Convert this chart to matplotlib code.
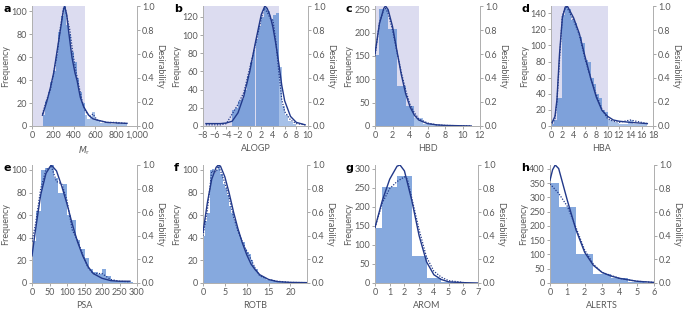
import matplotlib
matplotlib.use('Agg')
import matplotlib.pyplot as plt
import numpy as np

plt.rcParams['font.family'] = ['Lato', 'DejaVu Sans']
plt.rcParams['font.size'] = 6.5
plt.rcParams['axes.unicode_minus'] = True

# ---- data ----
# a: Mr
mw_edges = [100 + 25 * i for i in range(33)]
mw_counts = [10, 22, 30, 38, 48, 62, 82, 96, 104, 88, 80, 64, 56, 42, 30, 20,
             10, 6, 8, 12, 5, 4, 3, 3, 3, 3, 2, 2, 3, 2, 2, 2]
mw_fit_x = [100, 143, 175, 206, 238, 270, 300, 310, 330, 350, 381, 410, 429, 460, 492, 540, 580, 619, 714, 810, 905]
mw_fit_y = [0.09, 0.21, 0.32, 0.44, 0.62, 0.80, 0.97, 1.0, 0.93, 0.78, 0.57, 0.44, 0.38, 0.24, 0.16, 0.09, 0.06, 0.05, 0.03, 0.025, 0.022]
mw_dot_x = [100, 140, 175, 210, 240, 270, 300, 315, 340, 360, 390, 420, 450, 480, 510, 550, 580, 620, 700, 800, 905]
mw_dot_y = [0.10, 0.22, 0.30, 0.46, 0.60, 0.82, 0.98, 0.99, 0.88, 0.80, 0.60, 0.45, 0.32, 0.20, 0.12, 0.08, 0.10, 0.05, 0.03, 0.03, 0.02]

# b: ALOGP
logp_edges = [-3 + 0.5 * i for i in range(23)]
logp_counts = [18, 20, 27, 30, 40, 55, 70, 82, 96, 110, 120, 130, 126, 118, 122, 124,
               65, 22, 12, 6, 4, 2]
logp_fit_x = [-7.5, -5, -4, -3, -2, -1, 0, 1, 2, 2.6, 3, 3.5, 4, 4.5, 5, 5.5, 6, 7, 8, 9.5]
logp_fit_y = [0.02, 0.02, 0.025, 0.04, 0.11, 0.25, 0.45, 0.70, 0.93, 1.0, 0.98, 0.92, 0.82, 0.68, 0.52, 0.34, 0.21, 0.08, 0.03, 0.01]
logp_dot_x = [-7.5, -5, -4, -3, -2, -1, 0, 1, 2, 2.5, 3, 3.5, 4, 4.5, 5, 5.5, 6, 7, 8, 9.5]
logp_dot_y = [0.01, 0.01, 0.02, 0.10, 0.18, 0.28, 0.48, 0.68, 0.90, 0.98, 0.95, 0.90, 0.88, 0.70, 0.45, 0.22, 0.12, 0.05, 0.02, 0.01]

# c: HBD
hbd_centers = [0, 1, 2, 3, 4, 5, 6, 7, 8, 9, 10, 11]
hbd_counts = [152, 250, 207, 85, 42, 18, 5, 2, 1, 1, 0.5, 0.3]
hbd_fit_x = [0, 0.5, 1, 1.2, 1.5, 2, 2.5, 3, 3.5, 4, 4.5, 5, 6, 7, 8, 11]
hbd_fit_y = [0.60, 0.85, 0.98, 1.0, 0.97, 0.83, 0.63, 0.43, 0.27, 0.16, 0.09, 0.05, 0.02, 0.01, 0.005, 0.0]
hbd_dot_x = [0, 0.5, 1, 1.2, 1.5, 2, 2.5, 3, 3.5, 4, 4.5, 5, 6, 7, 8, 11]
hbd_dot_y = [0.58, 0.86, 0.97, 0.98, 0.94, 0.80, 0.62, 0.45, 0.30, 0.18, 0.11, 0.06, 0.025, 0.01, 0.005, 0.0]

# d: HBA
hba_edges = [0.5 * i for i in range(35)]
hba_counts = [3, 8, 35, 35, 138, 146, 145, 132, 128, 118, 110, 103, 82, 80, 60, 52, 40, 35,
              20, 18, 8, 6, 5, 4, 3, 3, 3, 6, 7, 3, 2, 2, 2, 2]
hba_fit_x = [0.2, 0.7, 1.05, 1.5, 2, 2.5, 2.8, 3, 4, 5, 6, 7, 8, 9, 10, 11, 12, 14, 17]
hba_fit_y = [0.03, 0.08, 0.22, 0.60, 0.90, 0.99, 1.0, 0.99, 0.90, 0.77, 0.58, 0.40, 0.24, 0.13, 0.08, 0.05, 0.04, 0.03, 0.02]
hba_dot_x = [0.2, 0.7, 1.05, 1.5, 2, 2.5, 2.8, 3, 4, 5, 6, 7, 8, 9, 10, 11, 12, 14, 17]
hba_dot_y = [0.02, 0.06, 0.20, 0.55, 0.92, 0.98, 0.99, 0.97, 0.88, 0.76, 0.56, 0.40, 0.26, 0.14, 0.06, 0.04, 0.03, 0.05, 0.02]

# e: PSA
psa_edges = [12.5 * i for i in range(24)]
psa_counts = [37, 64, 100, 102, 104, 93, 80, 88, 60, 56, 38, 30, 22, 12, 10, 8,
              12, 6, 3, 2, 2, 1, 1]
psa_fit_x = [0, 10, 25, 40, 55, 70, 85, 100, 115, 130, 145, 160, 175, 200, 225, 250, 280]
psa_fit_y = [0.23, 0.45, 0.75, 0.93, 1.0, 0.95, 0.82, 0.67, 0.50, 0.35, 0.23, 0.14, 0.08, 0.04, 0.02, 0.015, 0.015]
psa_dot_x = [0, 10, 25, 40, 55, 70, 85, 100, 115, 130, 145, 160, 175, 200, 225, 250, 280]
psa_dot_y = [0.35, 0.50, 0.80, 0.96, 0.99, 0.86, 0.84, 0.70, 0.45, 0.36, 0.24, 0.13, 0.08, 0.08, 0.03, 0.015, 0.01]

# f: ROTB
rotb_edges = [0.5 * i for i in range(43)]
rotb_counts = [42, 55, 62, 100, 101, 97, 100, 104, 96, 88, 84, 78, 68, 62, 55, 50, 45, 40,
               36, 30, 27, 26, 20, 15, 12, 8, 6, 5, 4, 3, 3, 2, 2, 2, 1.5, 1, 1, 1,
               0.8, 0.6, 0.5, 0.4]
rotb_fit_x = [0, 1, 2, 3, 3.5, 4, 5, 6, 7, 8, 9, 10, 11, 12, 13, 15, 17, 20, 24]
rotb_fit_y = [0.43, 0.68, 0.88, 0.98, 1.0, 0.99, 0.90, 0.76, 0.60, 0.46, 0.34, 0.24, 0.16, 0.11, 0.07, 0.03, 0.012, 0.005, 0.003]
rotb_dot_x = [0, 1, 2, 3, 3.5, 4, 5, 6, 7, 8, 9, 10, 11, 12, 13, 15, 17, 20, 24]
rotb_dot_y = [0.40, 0.62, 0.95, 0.94, 0.99, 0.95, 0.85, 0.72, 0.56, 0.44, 0.35, 0.27, 0.20, 0.12, 0.06, 0.03, 0.015, 0.005, 0.003]

# g: AROM
arom_centers = [0, 1, 2, 3, 4, 5, 6]
arom_counts = [145, 252, 280, 72, 14, 2, 0.5]
arom_fit_x = [0, 0.5, 1, 1.5, 1.7, 2, 2.5, 3, 3.5, 4, 4.5, 5, 6, 7]
arom_fit_y = [0.47, 0.70, 0.88, 0.99, 1.0, 0.95, 0.70, 0.40, 0.18, 0.07, 0.03, 0.01, 0.003, 0.0]
arom_dot_x = [0, 0.5, 1, 1.5, 2, 2.2, 2.5, 3, 3.5, 4, 4.5, 5, 6]
arom_dot_y = [0.47, 0.68, 0.80, 0.86, 0.90, 0.88, 0.72, 0.45, 0.22, 0.10, 0.05, 0.02, 0.005]

# h: ALERTS
alert_centers = [0, 1, 2, 3, 4, 5]
alert_counts = [350, 265, 100, 30, 17, 3]
alert_fit_x = [0, 0.15, 0.3, 0.5, 1, 1.5, 2, 2.5, 3, 3.5, 4, 5, 6]
alert_fit_y = [0.87, 0.96, 1.0, 0.97, 0.70, 0.45, 0.26, 0.15, 0.09, 0.06, 0.04, 0.015, 0.005]
alert_dot_x = [0, 0.5, 1, 1.5, 2, 2.5, 3, 4, 5, 6]
alert_dot_y = [0.84, 0.76, 0.65, 0.47, 0.28, 0.16, 0.09, 0.04, 0.015, 0.005]

BAR = '#86a9de'
BAR_IN = '#7ea1da'
BAR_OUT = '#a7c1e8'
SHADE = '#dcdcf0'
LINE = '#22398a'
TXT = '#5a5a5a'


def style(ax, ax2):
    for a in (ax, ax2):
        a.spines['top'].set_visible(False)
        for s in ('left', 'right', 'bottom'):
            a.spines[s].set_color('#b0b0b0')
            a.spines[s].set_linewidth(0.7)
        a.tick_params(length=2, width=0.6, color='#999999', labelcolor=TXT, labelsize=6.5, pad=1.5)
    ax2.set_ylim(0, 1.0)
    ax2.set_yticks([0, 0.2, 0.4, 0.6, 0.8, 1.0])
    ax2.set_yticklabels(['0.0', '0.2', '0.4', '0.6', '0.8', '1.0'])
    ax2.set_ylabel('Desirability', rotation=270, labelpad=7, color=TXT)
    ax.set_ylabel('Frequency', labelpad=1, color=TXT)


panels = [
    dict(letter='a', pos=(32, 6, 137, 126), edges=mw_edges, counts=mw_counts, lim=500,
         fx=mw_fit_x, fy=mw_fit_y, dx=mw_dot_x, dy=mw_dot_y, xlim=(0, 1000), ytop=104.4,
         xt=[0, 200, 400, 600, 800, 1000], xtl=['0', '200', '400', '600', '800', '1,000'],
         yt=[0, 20, 40, 60, 80, 100], xl=r'$M_{\mathrm{r}}$'),
    dict(letter='b', pos=(203, 6, 308, 126), edges=logp_edges, counts=logp_counts, lim=5,
         fx=logp_fit_x, fy=logp_fit_y, dx=logp_dot_x, dy=logp_dot_y, xlim=(-8, 10), ytop=132,
         xt=list(range(-8, 11, 2)), xtl=None, yt=[0, 20, 40, 60, 80, 100, 120], xl='ALOGP'),
    dict(letter='c', pos=(375, 6, 480, 126), centers=hbd_centers, counts=hbd_counts, lim=5,
         fx=hbd_fit_x, fy=hbd_fit_y, dx=hbd_dot_x, dy=hbd_dot_y, xlim=(0, 12), ytop=257,
         xt=list(range(0, 13, 2)), xtl=None, yt=[0, 50, 100, 150, 200, 250], xl='HBD'),
    dict(letter='d', pos=(551, 6, 653, 126), edges=hba_edges, counts=hba_counts, lim=10,
         fx=hba_fit_x, fy=hba_fit_y, dx=hba_dot_x, dy=hba_dot_y, xlim=(0, 18), ytop=149,
         xt=list(range(0, 19, 2)), xtl=None, yt=list(range(0, 141, 20)), xl='HBA'),
    dict(letter='e', pos=(32, 165, 137, 283), edges=psa_edges, counts=psa_counts, lim=None,
         fx=psa_fit_x, fy=psa_fit_y, dx=psa_dot_x, dy=psa_dot_y, xlim=(0, 300), ytop=104.4,
         xt=list(range(0, 301, 50)), xtl=None, yt=[0, 20, 40, 60, 80, 100], xl='PSA'),
    dict(letter='f', pos=(203, 165, 307, 283), edges=rotb_edges, counts=rotb_counts, lim=None,
         fx=rotb_fit_x, fy=rotb_fit_y, dx=rotb_dot_x, dy=rotb_dot_y, xlim=(0, 23.8), ytop=104.4,
         xt=[0, 5, 10, 15, 20], xtl=None, yt=[0, 20, 40, 60, 80, 100], xl='ROTB'),
    dict(letter='g', pos=(375, 165, 478, 283), centers=arom_centers, counts=arom_counts, lim=None,
         fx=arom_fit_x, fy=arom_fit_y, dx=arom_dot_x, dy=arom_dot_y, xlim=(0, 7), ytop=310,
         xt=list(range(0, 8)), xtl=None, yt=[0, 50, 100, 150, 200, 250, 300], xl='AROM'),
    dict(letter='h', pos=(550, 165, 654, 283), centers=alert_centers, counts=alert_counts, lim=None,
         fx=alert_fit_x, fy=alert_fit_y, dx=alert_dot_x, dy=alert_dot_y, xlim=(0, 6), ytop=414,
         xt=list(range(0, 7)), xtl=None, yt=list(range(0, 401, 50)), xl='ALERTS'),
]

W, H = 685, 311
fig = plt.figure(figsize=(W / 100, H / 100), dpi=100)

for p in panels:
    x0, y0, x1, y1 = p['pos']
    ax = fig.add_axes([x0 / W, 1 - y1 / H, (x1 - x0) / W, (y1 - y0) / H])
    ax2 = ax.twinx()
    ax.set_zorder(ax2.get_zorder() - 1)
    ax2.patch.set_visible(False)

    if 'edges' in p:
        e = np.array(p['edges'], dtype=float)
        left = e[:-1]
        width = np.diff(e)
    else:
        c = np.array(p['centers'], dtype=float)
        left = c - 0.5
        width = np.ones_like(c)
    mid = left + width / 2
    if p['lim'] is not None:
        ax.axvspan(p['xlim'][0], p['lim'], color=SHADE, lw=0, zorder=0)
        cols = [BAR_IN if m < p['lim'] else BAR_OUT for m in mid]
    else:
        cols = BAR
    ax.bar(left, p['counts'], width=width, align='edge', color=cols, lw=0, zorder=1)

    ax2.plot(p['fx'], p['fy'], color=LINE, lw=1.0, zorder=3)
    ax2.plot(p['dx'], p['dy'], color=LINE, lw=0.9, ls=(0, (1, 1.2)), zorder=3)

    ax.set_xlim(*p['xlim'])
    ax.set_ylim(0, p['ytop'])
    ax.set_xticks(p['xt'])
    if p['xtl']:
        ax.set_xticklabels(p['xtl'])
    ax.set_yticks(p['yt'])
    ax.set_xlabel(p['xl'], labelpad=3, color=TXT)
    style(ax, ax2)

    fig.text((x0 - 29) / W, 1 - (y0 + 3) / H, p['letter'], fontsize=8, fontweight='bold',
             va='center', ha='left', family='DejaVu Sans')

fig.savefig('out.png', dpi=100)
